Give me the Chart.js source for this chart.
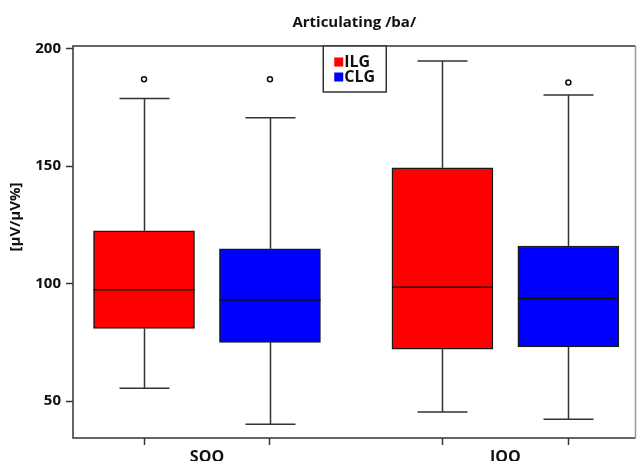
<!DOCTYPE html>
<html>
<head>
<meta charset="utf-8">
<script src="https://cdn.jsdelivr.net/npm/chart.js@4.4.1/dist/chart.umd.min.js"></script>
<style>
  html, body { margin: 0; padding: 0; background: #fff; }
  #wrap { width: 641px; height: 461px; }
</style>
</head>
<body>
<div id="wrap"><canvas id="myChart"></canvas></div>
<script>
// categories and groups
var categories = ['SOO', 'IOO'];
var groups = ['ILG', 'CLG'];
var groupColors = ['#ff0000', '#0000ff'];

// box statistics, one value per category
var ilgMin = [55.5, 45.4];
var ilgQ1 = [80.9, 72.1];
var ilgMedian = [97.4, 98.4];
var ilgQ3 = [122.5, 149.3];
var ilgMax = [178.8, 194.7];
var ilgOutliers = [[186.9], []];

var clgMin = [40.1, 42.3];
var clgQ1 = [75.0, 73.1];
var clgMedian = [93.0, 93.7];
var clgQ3 = [114.8, 116.0];
var clgMax = [170.6, 180.2];
var clgOutliers = [[186.9], [185.6]];

var yTicks = [50, 100, 150, 200];

var shift = 0.211;
var font = "'Open Sans', 'DejaVu Sans', sans-serif";

var stats = [
    { shift: -shift, min: ilgMin, q1: ilgQ1, med: ilgMedian, q3: ilgQ3, max: ilgMax, out: ilgOutliers },
    { shift: shift, min: clgMin, q1: clgQ1, med: clgMedian, q3: clgQ3, max: clgMax, out: clgOutliers }
];

function boxes(s) {
    return categories.map(function (c, i) {
        return { x: i + 1 + s.shift, y: [s.q1[i], s.q3[i]] };
    });
}

function outlierPoints(s) {
    var pts = [];
    s.out.forEach(function (vals, i) {
        vals.forEach(function (v) { pts.push({ x: i + 1 + s.shift, y: v }); });
    });
    return pts;
}

var datasets = [];
stats.forEach(function (s, g) {
    datasets.push({
        type: 'bar',
        label: groups[g],
        data: boxes(s),
        backgroundColor: groupColors[g],
        borderColor: '#1a1a1a',
        borderWidth: 1.5,
        borderSkipped: false,
        barThickness: 101,
        grouped: false
    });
});
stats.forEach(function (s, g) {
    datasets.push({
        type: 'scatter',
        label: groups[g] + ' outliers',
        data: outlierPoints(s),
        pointRadius: 2.5,
        pointBorderWidth: 1.5,
        pointBackgroundColor: '#ffffff',
        pointBorderColor: '#111111'
    });
});

// whiskers, medians, frame, title and the boxed legend
var boxParts = {
    id: 'boxParts',
    beforeDatasetsDraw: function (chart) {
        var ctx = chart.ctx, xs = chart.scales.x, ys = chart.scales.y;
        ctx.save();
        ctx.strokeStyle = '#333';
        ctx.lineWidth = 1.5;
        stats.forEach(function (s) {
            categories.forEach(function (c, i) {
                var px = Math.round(xs.getPixelForValue(i + 1 + s.shift)) + 0.5;
                var half = 25;
                var yMax = ys.getPixelForValue(s.max[i]);
                var yMin = ys.getPixelForValue(s.min[i]);
                ctx.beginPath();
                ctx.moveTo(px, ys.getPixelForValue(s.q3[i]));
                ctx.lineTo(px, yMax);
                ctx.moveTo(px - half, yMax);
                ctx.lineTo(px + half, yMax);
                ctx.moveTo(px, ys.getPixelForValue(s.q1[i]));
                ctx.lineTo(px, yMin);
                ctx.moveTo(px - half, yMin);
                ctx.lineTo(px + half, yMin);
                ctx.stroke();
            });
        });
        ctx.restore();
    },
    afterDatasetsDraw: function (chart) {
        var ctx = chart.ctx, xs = chart.scales.x, ys = chart.scales.y;
        ctx.save();
        ctx.strokeStyle = '#111';
        ctx.lineWidth = 1.5;
        stats.forEach(function (s) {
            categories.forEach(function (c, i) {
                var px = xs.getPixelForValue(i + 1 + s.shift);
                var py = ys.getPixelForValue(s.med[i]);
                ctx.beginPath();
                ctx.moveTo(px - 50.5, py);
                ctx.lineTo(px + 50.5, py);
                ctx.stroke();
            });
        });
        ctx.restore();
    },
    afterDraw: function (chart) {
        var ctx = chart.ctx, a = chart.chartArea;
        ctx.save();
        // frame
        ctx.lineWidth = 1.5;
        ctx.strokeStyle = '#333';
        ctx.beginPath();
        ctx.moveTo(a.right, a.top);
        ctx.lineTo(a.left, a.top);
        ctx.lineTo(a.left, a.bottom);
        ctx.lineTo(a.right, a.bottom);
        ctx.stroke();
        ctx.strokeStyle = '#999';
        ctx.beginPath();
        ctx.moveTo(a.right, a.top);
        ctx.lineTo(a.right, a.bottom);
        ctx.stroke();

        // title
        ctx.fillStyle = '#111';
        ctx.font = '700 15px ' + font;
        ctx.textAlign = 'center';
        ctx.textBaseline = 'middle';
        ctx.fillText('Articulating /ba/', (a.left + a.right) / 2, 23);

        // y axis title
        ctx.save();
        ctx.translate(16, 217);
        ctx.rotate(-Math.PI / 2);
        ctx.font = '700 15px ' + font;
        ctx.fillText('[\u00b5V/\u00b5V%]', 0, 0);
        ctx.restore();

        // legend
        var lx = (a.left + a.right) / 2 - 31, ly = a.top;
        ctx.fillStyle = '#fff';
        ctx.fillRect(lx, ly, 63, 46);
        ctx.strokeStyle = '#333';
        ctx.lineWidth = 1.5;
        ctx.strokeRect(lx, ly, 63, 46);
        ctx.font = '700 16px ' + font;
        ctx.textAlign = 'left';
        ctx.textBaseline = 'middle';
        groups.forEach(function (g, k) {
            var ry = ly + 16 + k * 15;
            ctx.fillStyle = groupColors[k];
            ctx.fillRect(lx + 11, ry - 4.5, 9, 9);
            ctx.fillStyle = '#111';
            ctx.fillText(g, lx + 21, ry);
        });
        ctx.restore();
    }
};

var ctx = document.getElementById('myChart').getContext('2d');
var chart = new Chart(ctx, {
    type: 'bar',
    data: { datasets: datasets },
    options: {
        responsive: true,
        maintainAspectRatio: false,
        animation: false,
        layout: { padding: { left: 0, right: 3, top: 46, bottom: 0 } },
        plugins: {
            legend: { display: false },
            tooltip: { enabled: false },
            title: { display: false }
        },
        scales: {
            x: {
                type: 'linear',
                offset: false,
                min: 0.551,
                max: 2.436,
                afterBuildTicks: function (scale) {
                    var t = [];
                    categories.forEach(function (c, i) {
                        t.push({ value: i + 1 - shift }, { value: i + 1 }, { value: i + 1 + shift });
                    });
                    scale.ticks = t;
                },
                afterFit: function (scale) { scale.height = 23; },
                border: { display: false },
                grid: {
                    drawOnChartArea: false,
                    offset: false,
                    tickLength: 7,
                    tickWidth: 1.5,
                    tickColor: function (c) {
                        return (c.tick && Number.isInteger(c.tick.value)) ? 'rgba(0,0,0,0)' : '#333';
                    }
                },
                ticks: {
                    autoSkip: false,
                    maxRotation: 0,
                    padding: 3,
                    color: '#111',
                    font: { family: font, size: 16, weight: '700' },
                    callback: function (v) {
                        return Number.isInteger(v) ? categories[v - 1] : '';
                    }
                }
            },
            y: {
                min: 34.3,
                max: 201.1,
                afterBuildTicks: function (scale) {
                    scale.ticks = yTicks.map(function (v) { return { value: v }; });
                },
                afterFit: function (scale) { scale.width = 73; },
                border: { display: false },
                grid: {
                    drawOnChartArea: false,
                    tickLength: 7,
                    tickWidth: 1.5,
                    tickColor: '#333'
                },
                ticks: {
                    padding: 5,
                    color: '#111',
                    font: { family: font, size: 15, weight: '700' }
                }
            }
        }
    },
    plugins: [boxParts]
});
</script>
</body>
</html>
